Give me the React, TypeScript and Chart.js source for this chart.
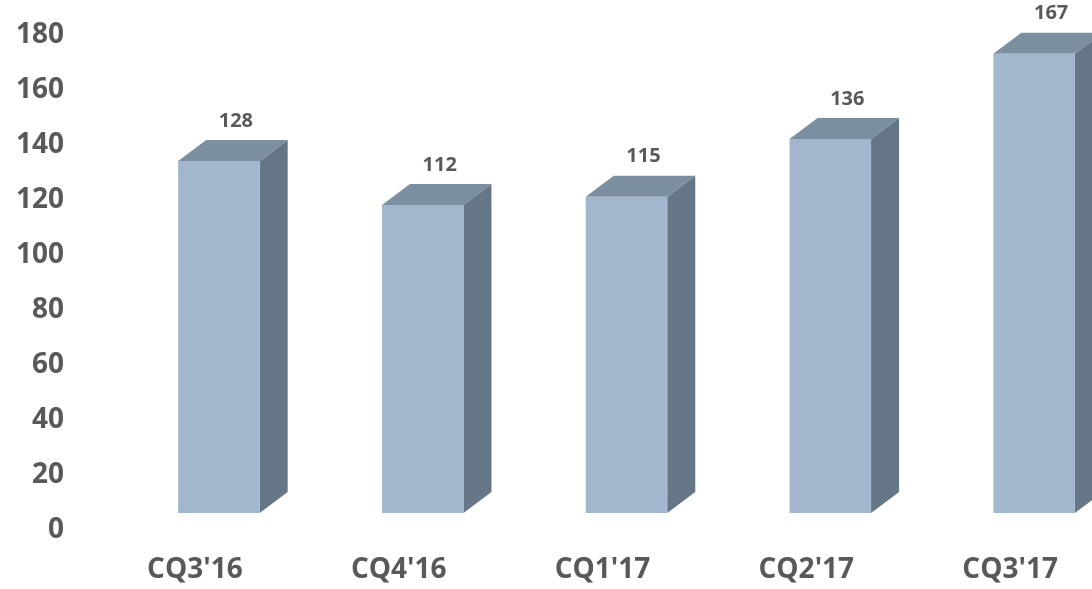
import React, { useEffect, useRef } from "react";
import { Chart, registerables } from "chart.js";

Chart.register(...registerables);

// Quarterly values shown on the 3D columns
const categories: string[] = ["CQ3'16", "CQ4'16", "CQ1'17", "CQ2'17", "CQ3'17"];
const values: number[] = [128, 112, 115, 136, 167];
const yMin = 0;
const yMax = 180;
const yStep = 20;

const FRONT = "#a2b7ce";
const TOP = "#7b8fa1";
const SIDE = "#657687";
const TEXT = "#595959";
const FONT = "'Open Sans', 'DejaVu Sans', sans-serif";

// Draws each bar as an extruded box (front, top and right side faces)
const bar3d = {
  id: "bar3d",
  afterDatasetsDraw(chart: any) {
    const ctx: CanvasRenderingContext2D = chart.ctx;
    const meta = chart.getDatasetMeta(0);
    const lift = 17;
    const dx = 28;
    const dy = 21;
    ctx.save();
    meta.data.forEach((el: any, i: number) => {
      const { x, y, base, width } = el.getProps(["x", "y", "base", "width"], true);
      const left = x - width / 2;
      const right = x + width / 2;
      const top = y - lift;
      const bottom = base - lift;

      // right side face
      ctx.fillStyle = SIDE;
      ctx.beginPath();
      ctx.moveTo(right, top);
      ctx.lineTo(right + dx, top - dy);
      ctx.lineTo(right + dx, bottom - dy);
      ctx.lineTo(right, bottom);
      ctx.closePath();
      ctx.fill();

      // top face
      ctx.fillStyle = TOP;
      ctx.beginPath();
      ctx.moveTo(left, top);
      ctx.lineTo(left + dx, top - dy);
      ctx.lineTo(right + dx, top - dy);
      ctx.lineTo(right, top);
      ctx.closePath();
      ctx.fill();

      // front face
      ctx.fillStyle = FRONT;
      ctx.fillRect(left, top, right - left, bottom - top);

      // value label above the box
      ctx.fillStyle = TEXT;
      ctx.font = `bold 20px ${FONT}`;
      ctx.textAlign = "center";
      ctx.textBaseline = "middle";
      ctx.fillText(String(values[i]), x + 17, y - 57);
    });
    ctx.restore();
  },
};

export default function App() {
  const canvasRef = useRef<HTMLCanvasElement | null>(null);

  useEffect(() => {
    document.body.style.margin = "0";
    document.body.style.overflow = "hidden";
    const canvas = canvasRef.current;
    if (!canvas) return;
    const chart = new Chart(canvas, {
      type: "bar",
      data: {
        labels: categories,
        datasets: [
          {
            data: values,
            backgroundColor: "rgba(0,0,0,0)",
            borderWidth: 0,
            barPercentage: 0.8,
            categoryPercentage: 0.5,
          },
        ],
      },
      options: {
        animation: false,
        responsive: false,
        layout: { padding: { top: 35, right: 0, left: 0, bottom: 0 } },
        plugins: {
          legend: { display: false },
          tooltip: { enabled: false },
        },
        scales: {
          x: {
            grid: { display: false, drawTicks: false },
            border: { display: false },
            ticks: {
              color: TEXT,
              font: { family: FONT, size: 28, weight: "bold" },
              padding: 23,
              labelOffset: -24,
              maxRotation: 0,
            },
            afterFit(scale: any) {
              scale.height = 59;
              scale.paddingLeft = 0;
              scale.paddingRight = 0;
            },
          },
          y: {
            min: yMin,
            max: yMax,
            grid: { display: false, drawTicks: false },
            border: { display: false },
            ticks: {
              stepSize: yStep,
              color: TEXT,
              font: { family: FONT, size: 28, weight: "bold" },
              padding: 53,
            },
            afterFit(scale: any) {
              scale.width = 117;
              scale.paddingTop = 0;
              scale.paddingBottom = 0;
            },
          },
        },
      },
      plugins: [bar3d],
    });
    return () => chart.destroy();
  }, []);

  return (
    <div style={{ width: 1136, height: 589 }}>
      <canvas ref={canvasRef} width={1136} height={589} />
    </div>
  );
}
